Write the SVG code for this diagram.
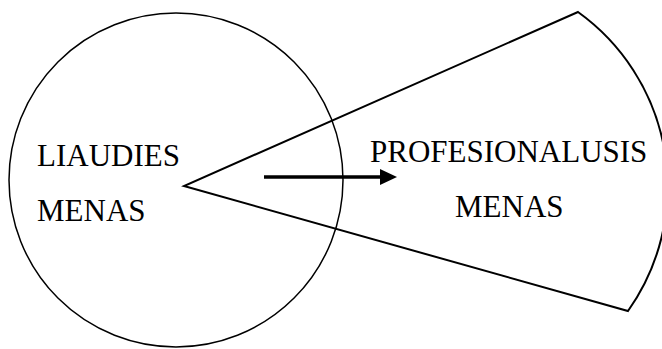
<svg xmlns="http://www.w3.org/2000/svg" width="662" height="349" viewBox="0 0 662 349">
<style>
  .shape { fill: none; stroke: #000; }
  .lbl { font-size: 31px; fill: #000; }
</style>
<defs>
  <marker id="ah" markerUnits="userSpaceOnUse" markerWidth="18" markerHeight="18" refX="0" refY="8" orient="auto">
    <polygon points="0,0 17,8 0,16" fill="#000"/>
  </marker>
</defs>
<rect width="662" height="349" fill="#fff"/>
<g id="liaudies">
  <circle class="shape" cx="176" cy="180" r="167" stroke-width="1.5"/>
  <text class="lbl" font-family="'Liberation Serif', serif" x="37" y="166">LIAUDIES</text>
  <text class="lbl" font-family="'Liberation Serif', serif" x="37" y="221">MENAS</text>
</g>
<g id="profesionalusis">
  <path class="shape" stroke-width="2" stroke-linejoin="miter" d="M578,12 L184,186 L628,311 A215,215 0 0 0 578,12 Z"/>
  <text class="lbl" font-family="'Liberation Serif', serif" x="370" y="162">PROFESIONALUSIS</text>
  <text class="lbl" font-family="'Liberation Serif', serif" x="455" y="217">MENAS</text>
</g>
<g id="connectors">
  <line x1="264" y1="177" x2="380" y2="177" stroke="#000" stroke-width="3.5" marker-end="url(#ah)"/>
</g>
</svg>
